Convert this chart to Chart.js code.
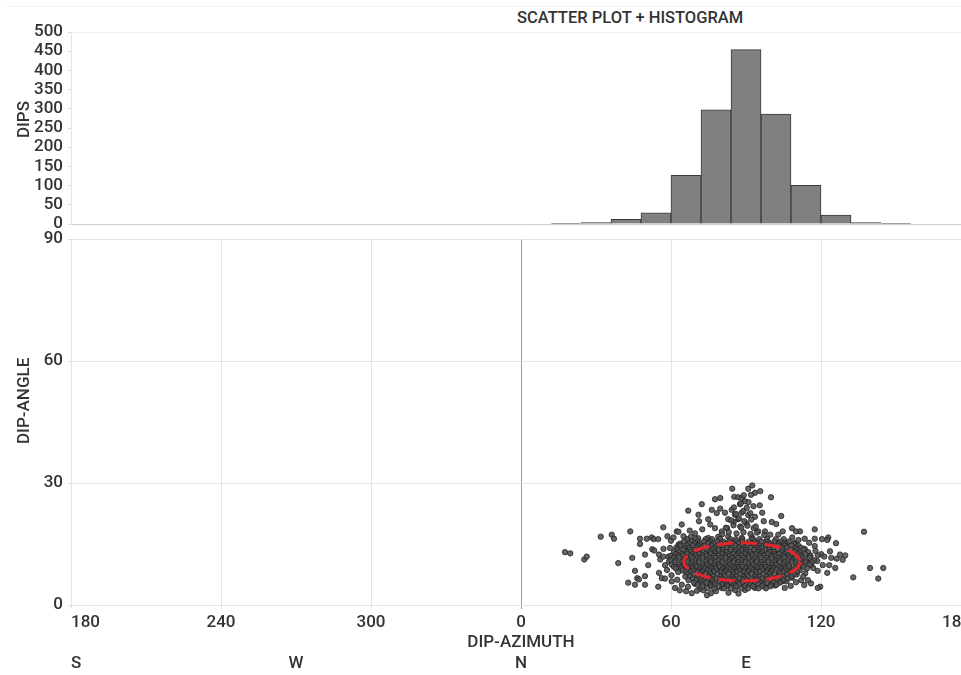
<!DOCTYPE html>
<html>
<head>
<meta charset="utf-8">
<script src="https://cdn.jsdelivr.net/npm/chart.js@4.4.1/dist/chart.umd.min.js"></script>
<style>
  html, body { margin: 0; padding: 0; background: #fff; overflow: hidden; width: 961px; height: 675px; }
  #wrap { position: relative; width: 961px; height: 675px; overflow: hidden; }
  #title { position: absolute; left: 517px; top: 8px; font: 500 16.5px Roboto, sans-serif; color: #333; line-height: 20px; white-space: nowrap; }
  #topline { position: absolute; left: 5px; right: 0; top: 6px; border-top: 1px solid #f2f2f2; }
  #histCanvas { position: absolute; left: 0; top: 0; }
  #scatterCanvas { position: absolute; left: 0; top: 229px; }
</style>
</head>
<body>
<div id="wrap">
  <div id="topline"></div>
  <div id="title">SCATTER PLOT + HISTOGRAM</div>
  <canvas id="histCanvas" width="981" height="240"></canvas>
  <canvas id="scatterCanvas" width="981" height="446"></canvas>
</div>
<script>
"use strict";
// histogram of dip azimuth (12 degree bins)
const histBinStart = [12, 24, 36, 48, 60, 72, 84, 96, 108, 120, 132, 144];
const histBinWidth = 12;
const histCounts = [2, 4, 12, 29, 127, 297, 454, 286, 101, 23, 4, 2];

// axis labels
const compassTicks = [-180, -90, 0, 90, 180];
const compassLabels = ['S', 'W', 'N', 'E', ''];

// mean orientation ellipse [azimuth, dip]
const ellipseCenter = [88.4, 10.6];
const ellipseRadius = [23.2, 4.7];

// scattered dips [azimuth, dip angle]
const outerPoints = [
  [17.6, 13.0], [19.7, 12.7], [25.3, 11.2], [26.3, 11.9], [31.9, 16.8], [36.3, 17.3], [37.2, 16.3],
  [38.9, 10.3], [43.7, 18.1], [44.5, 11.6], [45.6, 8.4], [42.9, 5.5], [45.6, 5.0], [46.5, 6.6],
  [47.2, 6.3], [49.6, 7.1], [49.6, 5.0], [47.6, 16.3], [47.6, 15.0], [50.3, 16.3], [52.3, 16.6],
  [53.1, 16.2], [54.9, 16.2], [56.9, 19.1], [49.6, 12.4], [50.9, 9.8], [52.5, 13.7], [53.3, 13.4],
  [55.2, 12.4], [55.7, 11.2], [56.9, 11.9], [57.6, 9.8], [55.2, 7.9], [56.3, 6.6], [57.6, 6.5],
  [54.9, 4.5], [60.3, 5.8], [61.6, 4.2], [60.0, 15.8], [59.6, 14.0], [58.9, 11.9], [62.3, 18.1],
  [58.4, 8.6], [59.2, 10.7], [57.0, 13.8], [58.6, 16.9], [61.0, 16.6], [60.2, 7.3], [62.5, 6.2],
  [63.5, 3.6], [66.0, 3.4], [65.0, 16.9], [68.0, 16.8], [70.9, 16.4], [71.5, 4.0], [66.8, 4.5],
  [70.4, 3.5], [73.0, 3.6], [78.0, 3.4], [83.0, 3.0], [87.0, 2.8],
  [92.5, 29.4], [90.9, 28.6], [93.6, 27.6], [84.5, 28.6], [85.3, 26.6], [86.9, 26.5], [88.3, 26.3],
  [89.6, 25.5], [87.6, 24.8], [90.3, 23.9], [95.7, 28.0], [95.5, 24.5], [100.0, 26.5], [79.7, 26.3],
  [77.6, 26.0], [72.3, 24.8], [66.9, 23.2], [76.3, 23.4], [79.7, 23.7], [78.3, 22.6], [81.6, 22.7],
  [84.3, 23.4], [85.6, 22.2], [82.9, 21.1], [85.1, 20.4], [86.9, 21.1], [88.3, 22.7], [90.9, 22.1],
  [93.6, 21.7], [96.5, 22.7], [97.1, 20.6], [100.3, 20.4], [102.1, 19.9], [71.0, 22.2], [71.2, 20.6],
  [74.9, 21.1], [75.7, 19.8], [64.3, 19.8], [67.5, 18.3], [63.0, 18.0], [66.4, 16.0], [69.6, 17.6],
  [72.5, 18.6], [77.6, 18.9], [80.3, 18.1], [82.4, 18.9], [87.7, 19.3], [90.1, 20.1], [93.1, 18.9],
  [94.9, 18.1], [97.6, 18.1], [99.7, 17.3], [102.9, 17.3], [74.9, 16.5], [78.9, 16.8], [82.9, 16.8],
  [92.3, 16.8], [88.3, 16.5], [69.6, 15.2], [63.0, 14.8],
  [80.5, 17.4], [83.1, 17.9], [86.2, 17.6], [89.0, 17.9], [91.8, 17.5], [94.4, 17.8], [97.3, 17.2],
  [82.0, 19.0], [85.0, 19.6], [88.1, 19.0], [90.6, 19.5], [93.9, 19.3], [84.1, 20.8], [87.2, 21.3],
  [89.3, 20.6], [92.1, 21.0], [86.0, 22.4], [88.9, 23.1], [91.7, 22.6], [85.2, 24.0], [87.9, 25.0],
  [91.0, 25.3], [93.0, 24.3], [89.1, 27.0], [92.0, 27.1],
  [68.3, 2.9], [74.4, 2.4], [76.0, 2.9], [80.3, 4.2], [85.6, 3.7], [89.6, 3.7], [93.6, 4.2],
  [97.6, 4.5], [101.6, 4.8], [104.3, 5.8], [64.3, 5.0], [69.6, 5.2], [76.3, 5.7], [82.9, 5.2],
  [137.2, 18.0], [139.6, 9.1], [144.9, 9.1], [142.9, 6.5], [132.9, 6.8], [129.7, 12.2], [128.7, 11.1],
  [126.3, 11.4], [125.7, 9.1], [124.1, 11.6], [123.3, 9.8], [122.5, 7.9], [126.0, 15.2], [122.9, 16.6],
  [122.5, 16.0], [120.4, 16.2], [117.5, 18.6], [117.5, 16.3], [117.5, 14.5], [120.1, 12.5], [121.3, 11.9],
  [118.7, 12.2], [120.7, 9.8], [116.1, 9.8], [116.9, 9.1], [118.7, 8.4], [119.7, 4.5], [118.7, 4.2],
  [114.8, 6.1], [112.1, 6.1], [107.9, 4.7], [105.5, 4.2], [113.7, 7.8], [114.3, 10.7], [111.6, 18.1],
  [108.4, 18.9], [110.0, 18.1], [113.5, 16.3], [104.7, 18.1], [104.1, 21.9], [106.3, 15.2], [109.5, 15.2],
  [113.5, 13.8], [111.6, 12.4], [115.6, 12.2], [108.9, 11.6], [111.1, 9.9], [107.6, 9.1], [110.3, 7.5],
  [112.9, 7.0], [106.3, 7.5], [123.6, 13.2], [127.6, 12.4],
  [108.5, 16.6], [111.0, 16.0], [115.3, 15.3], [118.5, 10.8], [117.8, 13.3], [110.0, 5.6], [113.3, 4.9],
  [116.0, 5.3], [106.2, 5.8], [108.4, 6.7]
];

// dense core, one row per dip angle: [dip, [azimuths]]
const coreRows = [
  [16.2, [66.5, 69.8, 73.9, 76.4, 79.6, 83.7, 85.9, 88.6, 92.8, 95.3, 98.4, 101.9, 105.1]],
  [15.6, [65.2, 68.3, 70.6, 73.2, 75.8, 78.4, 80.9, 83.3, 86.0, 88.4, 91.2, 93.5, 96.1, 98.7, 101.4, 104.0, 107.1]],
  [15.1, [63.6, 67.2, 69.4, 71.5, 74.9, 77.0, 79.8, 82.0, 84.9, 87.1, 90.2, 92.3, 94.5, 97.8, 99.9, 103.1, 105.4, 109.2]],
  [14.6, [63.7, 66.3, 68.7, 71.1, 73.6, 76.2, 78.5, 81.0, 83.4, 85.8, 88.3, 90.6, 93.1, 95.4, 97.9, 100.3, 102.9, 105.5, 108.3, 110.9]],
  [14.1, [62.1, 65.4, 67.2, 70.2, 72.1, 75.0, 77.6, 79.3, 82.4, 84.2, 87.1, 89.2, 92.0, 94.4, 96.3, 99.4, 101.2, 104.5, 106.4, 109.9, 112.0]],
  [13.6, [62.4, 64.9, 67.5, 69.6, 71.6, 74.3, 76.7, 79.0, 80.8, 83.8, 86.1, 88.5, 90.0, 93.3, 95.2, 97.9, 99.3, 102.6, 104.6, 107.8, 110.3, 113.0]],
  [13.0, [61.2, 63.3, 66.4, 68.1, 71.1, 72.9, 75.8, 77.6, 80.6, 82.3, 85.3, 87.1, 90.0, 91.8, 94.8, 96.5, 99.5, 101.3, 104.3, 106.2, 109.4, 111.5, 114.9]],
  [12.5, [61.8, 64.3, 66.5, 68.6, 71.3, 73.8, 75.9, 77.7, 80.4, 83.0, 84.9, 86.9, 89.6, 92.2, 94.0, 96.1, 98.8, 101.4, 103.2, 105.5, 108.1, 110.8, 113.6]],
  [12.1, [59.9, 63.0, 65.0, 68.0, 69.7, 72.6, 74.3, 77.2, 78.9, 81.8, 83.5, 86.4, 88.1, 91.0, 92.7, 95.6, 97.3, 100.2, 101.9, 104.9, 106.8, 110.0, 112.1, 115.8]],
  [11.6, [61.0, 63.1, 66.0, 68.6, 70.5, 72.6, 75.3, 77.8, 79.8, 81.8, 84.4, 87.0, 88.9, 91.0, 93.6, 96.2, 98.1, 100.2, 102.8, 105.4, 107.4, 109.7, 112.6, 115.5]],
  [11.0, [60.1, 61.9, 65.0, 66.8, 69.7, 71.4, 74.3, 76.0, 78.9, 80.6, 83.5, 85.2, 88.1, 89.8, 92.7, 94.4, 97.3, 99.0, 101.9, 103.6, 106.6, 108.5, 111.7, 113.9, 117.2]],
  [10.5, [61.6, 64.4, 66.7, 68.6, 71.2, 73.9, 75.9, 77.8, 80.5, 83.1, 85.1, 87.0, 89.7, 92.2, 94.3, 96.2, 98.8, 101.4, 103.5, 105.6, 108.3, 111.0, 113.8, 116.4]],
  [9.9, [60.3, 63.4, 65.2, 68.1, 69.8, 72.7, 74.4, 77.3, 79.0, 81.9, 83.6, 86.5, 88.2, 91.1, 92.8, 95.7, 97.4, 100.3, 102.0, 105.0, 106.9, 110.1, 112.3, 115.4]],
  [9.4, [61.2, 63.7, 66.3, 68.4, 70.4, 73.1, 75.6, 77.7, 79.6, 82.3, 84.8, 86.8, 88.8, 91.5, 94.0, 96.0, 98.0, 100.7, 103.2, 105.4, 107.3, 110.5, 113.0]],
  [9.0, [62.0, 64.0, 67.0, 68.7, 71.6, 73.3, 76.2, 77.9, 80.8, 82.5, 85.4, 87.1, 90.0, 91.7, 94.6, 96.3, 99.2, 100.9, 103.9, 105.8, 109.0, 111.1, 114.4]],
  [8.5, [64.5, 66.9, 68.9, 71.1, 72.9, 75.6, 78.1, 80.2, 82.1, 84.8, 87.3, 89.4, 91.3, 94.0, 96.5, 98.6, 100.5, 103.3, 105.8, 108.7, 111.5]],
  [8.1, [62.9, 66.1, 67.9, 70.8, 72.5, 75.4, 77.1, 80.0, 81.7, 84.6, 86.3, 89.2, 90.9, 93.8, 95.5, 98.4, 100.1, 103.1, 105.0, 108.2, 110.3]],
  [7.6, [66.6, 69.1, 71.8, 73.8, 75.8, 78.5, 81.0, 83.0, 85.0, 87.7, 90.2, 92.2, 94.2, 96.9, 99.4, 101.4, 103.5, 106.4, 109.2]],
  [7.0, [65.7, 67.6, 70.6, 72.3, 75.2, 76.9, 79.8, 81.5, 84.4, 86.1, 89.0, 90.7, 93.6, 95.3, 98.2, 99.9, 102.9, 104.8, 108.1]],
  [6.5, [68.7, 71.1, 74.1, 75.9, 78.1, 80.3, 83.3, 85.1, 87.3, 89.5, 92.5, 94.3, 96.5, 98.8, 101.7, 104.0, 106.6]],
  [6.1, [67.0, 70.1, 71.9, 74.8, 76.5, 79.4, 81.1, 84.0, 85.7, 88.6, 90.3, 93.2, 94.9, 97.8, 99.6, 102.7, 104.9]],
  [5.5, [69.2, 72.0, 74.2, 76.6, 79.3, 81.4, 84.1, 86.2, 88.6, 91.0, 93.4, 95.8, 98.4, 101.1, 103.6]],
  [5.0, [70.7, 72.7, 75.7, 77.5, 80.5, 82.3, 85.3, 87.1, 90.1, 91.9, 94.9, 96.8, 100.0, 102.2]],
  [4.6, [72.6, 75.9, 79.0, 82.5, 86.0, 89.4, 92.8, 96.4, 99.8]],
  [4.1, [74.5, 77.3, 81.2, 84.0, 88.1, 90.9, 95.0, 98.0]]
];

Chart.defaults.font.family = 'Roboto, sans-serif';
Chart.defaults.font.size = 17;
Chart.defaults.font.weight = 500;
Chart.defaults.color = '#333';

const scatterData = outerPoints.map(p => ({ x: p[0], y: p[1] }));
coreRows.forEach(row => {
    row[1].forEach(az => scatterData.push({ x: az, y: row[0] }));
});

const histData = histBinStart.map((b, i) => ({ x: b + histBinWidth / 2, y: histCounts[i] }));

const ellipsePlugin = {
    id: 'dipEllipse',
    afterDatasetsDraw(chart) {
        const ctx = chart.ctx;
        const x = chart.scales.x;
        const y = chart.scales.y;
        const cx = x.getPixelForValue(ellipseCenter[0]);
        const cy = y.getPixelForValue(ellipseCenter[1]);
        const rx = x.getPixelForValue(ellipseCenter[0] + ellipseRadius[0]) - cx;
        const ry = cy - y.getPixelForValue(ellipseCenter[1] + ellipseRadius[1]);
        ctx.save();
        ctx.strokeStyle = '#e8232a';
        ctx.lineWidth = 3;
        ctx.setLineDash([16, 8]);
        ctx.beginPath();
        ctx.ellipse(cx, cy, rx, ry, 0, 0, Math.PI * 2);
        ctx.stroke();
        ctx.restore();
    }
};

const histChart = new Chart(document.getElementById('histCanvas'), {
    type: 'bar',
    data: {
        datasets: [{
            data: histData,
            backgroundColor: '#808080',
            borderColor: '#3a3a3a',
            borderWidth: 1,
            barPercentage: 1,
            categoryPercentage: 1
        }]
    },
    options: {
        responsive: false,
        animation: false,
        layout: { padding: { top: 32, bottom: 16, left: 0, right: 10 } },
        plugins: { legend: { display: false }, tooltip: { enabled: false } },
        scales: {
            x: { type: 'linear', display: false, min: -180, max: 180, offset: false, grid: { offset: false } },
            y: {
                min: 0, max: 500,
                ticks: { stepSize: 50, autoSkip: false, padding: 5 },
                grid: {
                    color: c => c.tick.value === 500 ? '#eeeeee' : (c.tick.value === 0 ? '#cfcfcf' : 'rgba(0,0,0,0)'),
                    tickColor: '#d9d9d9',
                    tickLength: 3
                },
                border: { color: '#e6e6e6' },
                // leading spaces nudge the label up like the original
                title: { display: true, text: '    DIPS', padding: { top: 15, bottom: 0 } },
                afterFit: s => { s.width = 71; s.paddingTop = 0; s.paddingBottom = 0; }
            }
        }
    }
});

const scatterChart = new Chart(document.getElementById('scatterCanvas'), {
    type: 'scatter',
    data: {
        datasets: [{
            data: scatterData,
            pointRadius: 2.7,
            backgroundColor: 'rgba(85,85,85,0.9)',
            borderColor: 'rgba(30,30,30,0.85)',
            borderWidth: 0.9
        }]
    },
    options: {
        responsive: false,
        animation: false,
        layout: { padding: { top: 10, bottom: 0, left: 0, right: 10 } },
        plugins: { legend: { display: false }, tooltip: { enabled: false } },
        scales: {
            x: {
                type: 'linear', position: 'bottom', weight: 0, min: -180, max: 180,
                ticks: { stepSize: 60, align: 'inner', padding: 4, callback: v => v < 0 ? v + 360 : v },
                grid: { color: c => c.tick.value === 0 ? '#9a9a9a' : '#e3e3e3', tickLength: 4 },
                border: { color: '#e3e3e3' },
                title: { display: true, text: 'DIP-AZIMUTH', padding: { top: 2, bottom: 0 } },
                afterFit: s => { s.height = 48; s.paddingLeft = 0; s.paddingRight = 0; }
            },
            compass: {
                type: 'linear', axis: 'x', position: 'bottom', weight: 1, min: -180, max: 180,
                afterBuildTicks: s => { s.ticks = compassTicks.map(v => ({ value: v })); },
                ticks: { align: 'inner', padding: 1, autoSkip: false, callback: (v, i) => compassLabels[i] },
                grid: { display: false, drawTicks: false },
                border: { display: false },
                afterFit: s => { s.height = 22; s.paddingLeft = 0; s.paddingRight = 0; }
            },
            y: {
                min: 0, max: 90,
                ticks: { stepSize: 30, padding: 5 },
                grid: { color: '#e3e3e3', tickLength: 3, tickColor: '#d9d9d9' },
                border: { color: '#e3e3e3' },
                title: { display: true, text: '          DIP-ANGLE', padding: { top: 15, bottom: 0 } },
                afterFit: s => { s.width = 71; s.paddingTop = 0; s.paddingBottom = 0; }
            }
        }
    },
    plugins: [ellipsePlugin]
});
</script>
</body>
</html>
